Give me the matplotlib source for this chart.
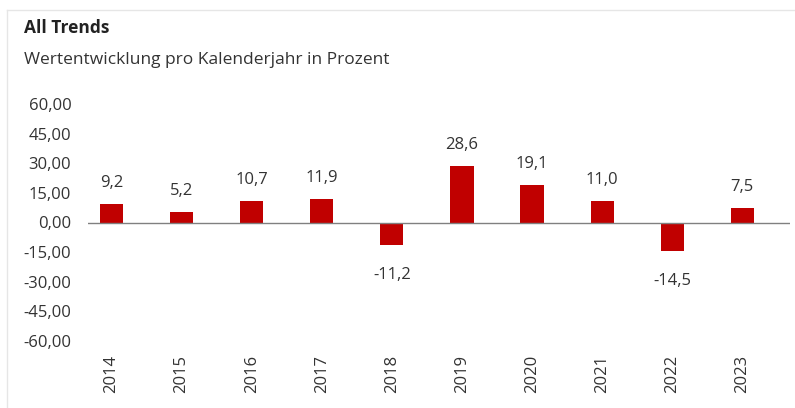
import matplotlib.pyplot as plt
from matplotlib.lines import Line2D

years = ['2014', '2015', '2016', '2017', '2018', '2019', '2020', '2021', '2022', '2023']
values = [9.2, 5.2, 10.7, 11.9, -11.2, 28.6, 19.1, 11.0, -14.5, 7.5]
y_ticks = [60, 45, 30, 15, 0, -15, -30, -45, -60]

bar_color = '#C00000'
text_color = '#333333'

plt.rcParams['font.family'] = ['Open Sans', 'DejaVu Sans']

W, H = 795, 408
fig = plt.figure(figsize=(W / 100, H / 100), dpi=100)

# axes area in pixels: x 88..790, y 104..341 (from top)
ax = fig.add_axes([88 / W, (H - 341) / H, (790 - 88) / W, (341 - 104) / H])

x = list(range(len(years)))
ax.bar(x, values, width=0.33, color=bar_color, zorder=2)
ax.axhline(0, color='#808080', linewidth=1, zorder=3)

for xi, v in zip(x, values):
    label = f'{v:.1f}'.replace('.', ',')
    off = 21 if v >= 0 else -30
    ax.annotate(label, (xi, v), xytext=(0, off), textcoords='offset pixels',
                ha='center', va='center', fontsize=12, color=text_color)

ax.set_xlim(-0.335, 9.68)
ax.set_ylim(-60, 60)
ax.set_yticks(y_ticks)
ax.set_yticklabels([f'{t:.2f}'.replace('.', ',') for t in y_ticks])
ax.set_xticks(x)
ax.set_xticklabels(years, rotation=90, va='top')
ax.tick_params(axis='y', length=0, pad=12, labelsize=12, labelcolor=text_color)
ax.tick_params(axis='x', length=0, pad=10, labelsize=12, labelcolor=text_color)
for s in ax.spines.values():
    s.set_visible(False)

# thin frame lines (top and left)
fig.add_artist(Line2D([7 / W, 1], [1 - 10 / H, 1 - 10 / H], color='#e6e6e6', linewidth=1))
fig.add_artist(Line2D([7 / W, 7 / W], [0, 1 - 10 / H], color='#e6e6e6', linewidth=1))

fig.text(24 / W, 1 - 28 / H, 'All Trends', fontsize=12.5, fontweight='bold',
         color='#222222', va='center', ha='left')
fig.text(24 / W, 1 - 60 / H, 'Wertentwicklung pro Kalenderjahr in Prozent',
         fontsize=12.5, color=text_color, va='center', ha='left')

fig.savefig('out.png', dpi=100)
